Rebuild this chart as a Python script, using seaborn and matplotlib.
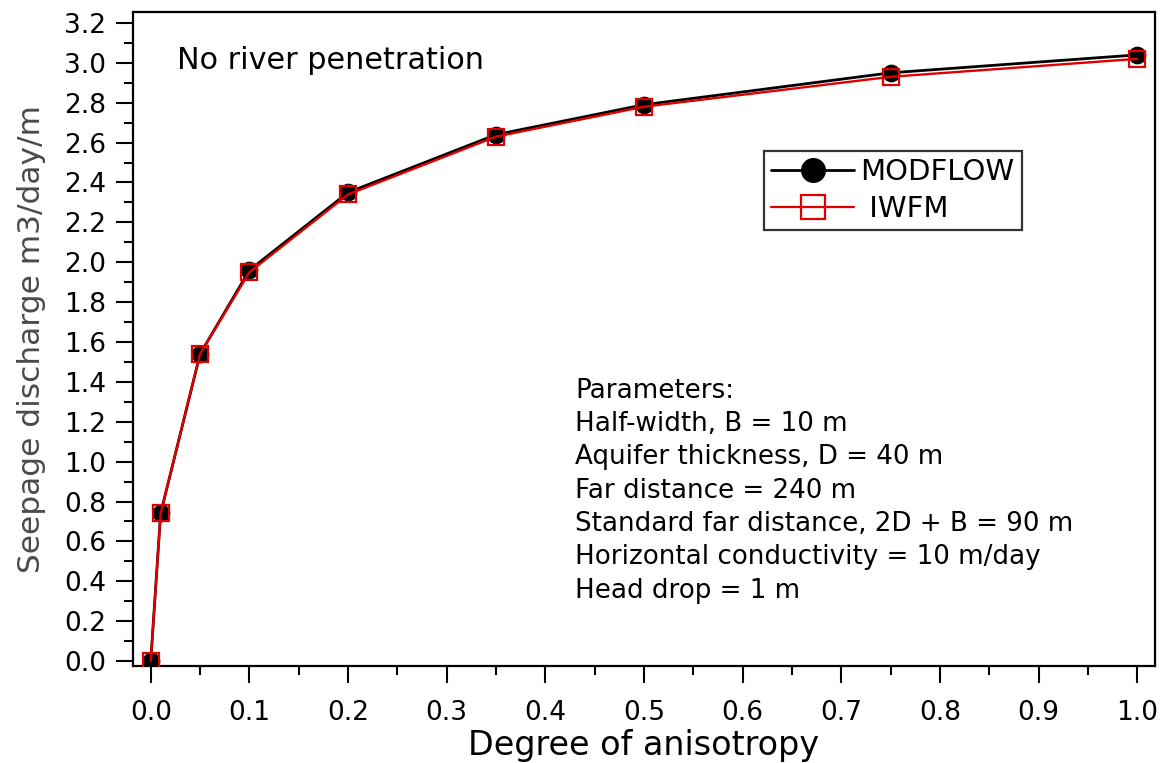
import matplotlib
matplotlib.use("Agg")
import matplotlib.pyplot as plt
import seaborn as sns
import pandas as pd
from matplotlib.lines import Line2D
from matplotlib.ticker import MultipleLocator

anisotropy = [0.0, 0.01, 0.05, 0.1, 0.2, 0.35, 0.5, 0.75, 1.0]
modflow = [0.0, 0.74, 1.54, 1.96, 2.35, 2.64, 2.79, 2.95, 3.04]
iwfm = [0.0, 0.74, 1.54, 1.95, 2.34, 2.63, 2.78, 2.93, 3.02]

params_lines = [
    "Parameters:",
    "Half-width, B = 10 m",
    "Aquifer thickness, D = 40 m",
    "Far distance = 240 m",
    "Standard far distance, 2D + B = 90 m",
    "Horizontal conductivity = 10 m/day",
    "Head drop = 1 m",
]

sns.set_style("ticks")
plt.rcParams['font.family'] = ['DejaVu Sans']
plt.rcParams['text.color'] = 'black'
plt.rcParams['legend.labelcolor'] = 'black'

fig = plt.figure(figsize=(11.63, 7.63), dpi=100)
ax = fig.add_axes([133/1163, 1-666/763, (1155-133)/1163, (666-12)/763])

df_m = pd.DataFrame({"x": anisotropy, "y": modflow})
df_i = pd.DataFrame({"x": anisotropy, "y": iwfm})

sns.lineplot(data=df_m, x="x", y="y", ax=ax, color="black", linewidth=2.0,
             marker="o", markersize=12, markerfacecolor="black",
             markeredgecolor="black", zorder=3)
sns.lineplot(data=df_i, x="x", y="y", ax=ax, color="#e00000", linewidth=1.7,
             marker="s", markersize=12, markerfacecolor="none",
             markeredgecolor="#e00000", markeredgewidth=1.6, zorder=4)

ax.set_xlim(-0.018, 1.018)
ax.set_ylim(-0.025, 3.255)
ax.xaxis.set_minor_locator(MultipleLocator(0.05))
ax.yaxis.set_minor_locator(MultipleLocator(0.1))
ax.set_xticks([round(0.1*i, 1) for i in range(11)])
ax.set_xticklabels([f"{0.1*i:.1f}" for i in range(11)])
ax.set_yticks([round(0.2*i, 1) for i in range(17)])
ax.set_yticklabels([f"{0.2*i:.1f}" for i in range(17)])

for s in ax.spines.values():
    s.set_visible(True)
    s.set_linewidth(1.6)
    s.set_color("black")

ax.tick_params(axis="both", which="major", direction="out", length=12.5, width=1.5,
               labelsize=19, colors="black")
ax.tick_params(axis="y", which="major", pad=7)
ax.tick_params(axis="x", which="major", pad=12)
ax.tick_params(axis="both", which="minor", direction="out", length=6.5, width=1.5,
               colors="black")
ax.tick_params(top=False, right=False, which="both")

ax.set_xlabel("Degree of anisotropy", fontsize=24, color="black", labelpad=2)
ax.set_ylabel("Seepage discharge m3/day/m", fontsize=22.5, color="#4a4a4a", labelpad=13)

ax.text(0.027, 3.014, "No river penetration", fontsize=21.8, color="black",
        ha="left", va="center")

y0 = 1.355
for i, line in enumerate(params_lines):
    ax.text(0.43, y0 - i*0.167, line, fontsize=18.8, color="black",
            ha="left", va="center")

handles = [
    Line2D([], [], color="black", linewidth=2.0, marker="o", markersize=17,
           markerfacecolor="black", markeredgecolor="black"),
    Line2D([], [], color="#e00000", linewidth=1.6, marker="s", markersize=17,
           markerfacecolor="none", markeredgecolor="#e00000", markeredgewidth=1.6),
]
leg = ax.legend(handles, ["MODFLOW", " IWFM"], loc="upper left",
                bbox_to_anchor=((764-133)/1022, (666-151)/654), fontsize=21,
                frameon=True, fancybox=False, edgecolor="black",
                handlelength=2.85, handletextpad=0.2, borderpad=0.25,
                labelspacing=0.3, borderaxespad=0, labelcolor="black")
leg.get_frame().set_linewidth(1.6)

fig.savefig("out.png", dpi=100)
